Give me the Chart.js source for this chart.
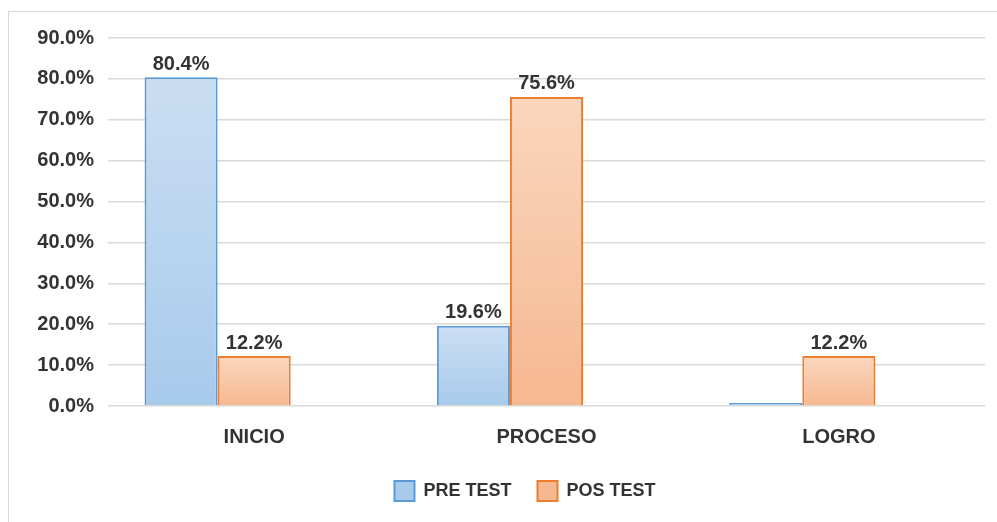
<!DOCTYPE html>
<html>
<head>
    <title>Pre test / Pos test</title>
    <script src="https://cdn.jsdelivr.net/npm/chart.js"></script>
    <style>
        body {
            margin: 0;
            background: #ffffff;
            overflow: hidden;
        }
        .frame {
            position: absolute;
            left: 8px;
            top: 11px;
            width: 1000px;
            height: 520px;
            border: 1px solid #d9d9d9;
        }
        .chart-box {
            position: absolute;
            left: 9px;
            top: 12px;
            width: 988px;
            height: 510px;
        }
    </style>
</head>
<body>
    <div class="frame"></div>
    <div class="chart-box">
        <canvas id="testChart"></canvas>
    </div>

    <script>
        // Data
        const categories = ['INICIO', 'PROCESO', 'LOGRO'];
        const preTest = [80.4, 19.6, 0];
        const posTest = [12.2, 75.6, 12.2];
        const emptySlot = [null, null, null]; // the original keeps an empty third series slot
        const yTicks = [0, 10, 20, 30, 40, 50, 60, 70, 80, 90];

        const textColor = '#333333';
        const fontFamily = "'Liberation Sans', Arial, sans-serif";

        // vertical gradient for every single bar, light on top
        function barGradient(topColor, bottomColor) {
            return function(context) {
                const chart = context.chart;
                const area = chart.chartArea;
                if (!area || context.raw === undefined || context.raw === null) return bottomColor;
                const y = chart.scales.y;
                const top = y.getPixelForValue(context.raw);
                const base = y.getPixelForValue(0);
                if (base - top < 1) return bottomColor;
                const g = chart.ctx.createLinearGradient(0, top, 0, base);
                g.addColorStop(0, topColor);
                g.addColorStop(1, bottomColor);
                return g;
            };
        }

        // values above the bars
        const valueLabels = {
            id: 'valueLabels',
            afterDatasetsDraw(chart) {
                const ctx = chart.ctx;
                ctx.save();
                ctx.font = 'bold 20px ' + fontFamily;
                ctx.fillStyle = textColor;
                ctx.textAlign = 'center';
                ctx.textBaseline = 'bottom';
                chart.data.datasets.forEach((ds, i) => {
                    chart.getDatasetMeta(i).data.forEach((bar, j) => {
                        const v = ds.data[j];
                        if (!v) return;
                        ctx.fillText(v.toFixed(1) + '%', bar.x, bar.y - 3);
                    });
                });
                ctx.restore();
            }
        };

        // the legend sits a bit right of centre and closer to the axis labels
        const legendNudge = {
            id: 'legendNudge',
            afterLayout(chart) {
                const lg = chart.legend;
                lg.left += 28;
                lg.right += 28;
                lg.top -= 5;
                lg.bottom -= 5;
            }
        };

        const ctx = document.getElementById('testChart').getContext('2d');
        new Chart(ctx, {
            type: 'bar',
            data: {
                labels: categories,
                datasets: [{
                    label: 'PRE TEST',
                    data: preTest,
                    backgroundColor: barGradient('#cadef2', '#a8caeb'),
                    borderColor: '#5b9bd5',
                    borderWidth: 2,
                    minBarLength: 3
                }, {
                    label: 'POS TEST',
                    data: posTest,
                    backgroundColor: barGradient('#fad6be', '#f6b890'),
                    borderColor: '#ed7d31',
                    borderWidth: 2
                }, {
                    label: '',
                    data: emptySlot
                }]
            },
            options: {
                responsive: true,
                maintainAspectRatio: false,
                animation: false,
                datasets: {
                    bar: { categoryPercentage: 0.75, barPercentage: 1 }
                },
                layout: {
                    padding: { top: 14, right: 12, left: 0, bottom: 6 }
                },
                plugins: {
                    legend: {
                        position: 'bottom',
                        labels: {
                            color: textColor,
                            font: { family: fontFamily, size: 18, weight: 'bold' },
                            boxWidth: 20,
                            boxHeight: 20,
                            padding: 26,
                            filter: item => item.text !== ''
                        }
                    },
                    tooltip: { enabled: false }
                },
                scales: {
                    x: {
                        grid: { display: false },
                        border: { display: false },
                        ticks: {
                            color: textColor,
                            padding: 11,
                            font: { family: fontFamily, size: 20, weight: 'bold' }
                        }
                    },
                    y: {
                        min: 0,
                        max: 90,
                        afterFit: scale => { scale.width = 99; },
                        afterBuildTicks: scale => {
                            scale.ticks = yTicks.map(v => ({ value: v }));
                        },
                        grid: {
                            color: '#d9d9d9',
                            lineWidth: 1.5,
                            drawTicks: false
                        },
                        border: { display: false },
                        ticks: {
                            color: textColor,
                            padding: 14,
                            font: { family: fontFamily, size: 20, weight: 'bold' },
                            callback: value => value.toFixed(1) + '%'
                        }
                    }
                }
            },
            plugins: [valueLabels, legendNudge]
        });
    </script>
</body>
</html>
